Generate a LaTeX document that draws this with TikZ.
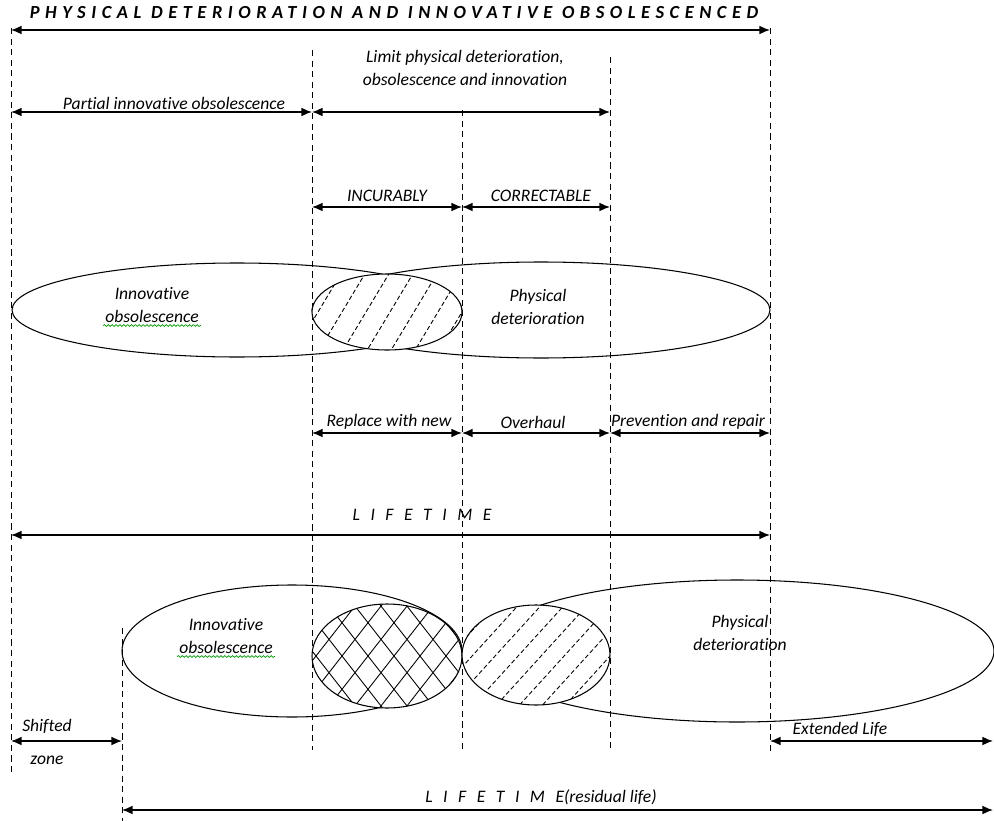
\documentclass[tikz,border=0pt]{standalone}
\usepackage{fontspec}
\setmainfont[Ligatures=NoCommon]{Carlito}
\usetikzlibrary{arrows.meta, positioning, decorations.pathmorphing}

\begin{document}
\begin{tikzpicture}[
    x=0.02cm, y=-0.02cm,
    guide/.style={dash pattern=on 3.5pt off 2.5pt, line width=0.5pt},
    span/.style={{Latex[length=6pt,width=5pt]}-{Latex[length=6pt,width=5pt]}, line width=0.8pt},
    tag/.style={font=\fontsize{10}{13.5}\selectfont\itshape, inner sep=1pt, align=center},
    word/.style={font=\fontsize{10}{13.5}\selectfont\itshape, inner sep=1pt, anchor=base},
    wide/.style={font=\fontsize{10}{13.5}\selectfont\itshape\addfontfeature{LetterSpace=60}, inner sep=1pt},
    spell/.style={green!60!black, line width=0.4pt, decorate, decoration={snake, amplitude=0.5pt, segment length=2.2pt}},
    lens/.style={line width=0.6pt},
    hatch/.style={dash pattern=on 2.5pt off 1.5pt, line width=0.5pt},
    cross/.style={line width=0.5pt}
]
\useasboundingbox (0,0) rectangle (994,821);

% Columns and rows
\coordinate (c0) at (11,0);
\coordinate (c1) at (122,0);
\coordinate (c2) at (312,0);
\coordinate (c3) at (462,0);
\coordinate (c4) at (610,0);
\coordinate (c5) at (770,0);
\coordinate (c6) at (993,0);

\coordinate (rTop) at (0,30);
\coordinate (rPart) at (0,112);
\coordinate (rCure) at (0,207);
\coordinate (rAct) at (0,433);
\coordinate (rLife) at (0,535);
\coordinate (rShift) at (0,741);
\coordinate (rRes) at (0,810);

% Guide lines
\foreach \n/\x/\ya/\yb in {0/11/28/775, 1/122/628/821, 2/312/50/750, 3/462/110/750, 4/610/57/750, 5/770/28/752} {
    \coordinate (g\n a) at (\x,\ya);
    \coordinate (g\n b) at (\x,\yb);
    \draw[guide] (g\n a) -- (g\n b);
}

% Upper ellipses
\draw[lens] (237,310) ellipse [x radius=225, y radius=47];
\draw[lens] (541,310) ellipse [x radius=229, y radius=48];
\fill[white] (387,312) ellipse [x radius=75, y radius=38];
\begin{scope}
    \clip (387,312) ellipse [x radius=75, y radius=38];
    \foreach \k in {-2,...,7}
        \draw[hatch] (306+24*\k,372) -- ++(60,-100);
\end{scope}
\draw[lens] (387,312) ellipse [x radius=75, y radius=38];

% Lower ellipses
\draw[lens] (292,651) ellipse [x radius=170, y radius=66];
\draw[lens] (737,651) ellipse [x radius=257, y radius=71];
\fill[white] (387,656) ellipse [x radius=75, y radius=52];
\begin{scope}
    \clip (387,656) ellipse [x radius=75, y radius=52];
    \foreach \k in {0,...,8} {
        \draw[cross] (240+26*\k,720) -- ++(100,-128);
        \draw[cross] (240+26*\k,592) -- ++(100,128);
    }
\end{scope}
\draw[lens] (387,656) ellipse [x radius=75, y radius=52];
\fill[white] (536,655) ellipse [x radius=74, y radius=50];
\begin{scope}
    \clip (536,655) ellipse [x radius=74, y radius=50];
    \foreach \k in {0,...,8}
        \draw[hatch] (400+23*\k,710) -- ++(100,-110);
\end{scope}
\draw[lens] (536,655) ellipse [x radius=74, y radius=50];

% Nodes
\node[font=\fontsize{10.5}{12}\selectfont\bfseries\itshape\addfontfeature{LetterSpace=30}] (Title) at (394,13) {PHYSICAL DETERIORATION AND INNOVATIVE OBSOLESCENCED};
\node[tag] (LimitLbl) at (465,68) {Limit physical deterioration,\\obsolescence and innovation};
\node[tag] (PartialLbl) at (174,103) {Partial innovative obsolescence};
\node[tag] (IncLbl) at (387,196) {INCURABLY};
\node[tag] (CorLbl) at (541,196) {CORRECTABLE};

\node[word] (InnoUpA) at (152,299) {Innovative};
\node[word] (InnoUpB) at (152,322) {obsolescence};
\node[tag] (PhysUp) at (538,307) {Physical\\deterioration};

\node[tag] (ReplLbl) at (389,422) {Replace with new};
\node[tag] (OverLbl) at (533,422) {Overhaul};
\node[tag] (PrevLbl) at (688,422) {Prevention and repair};
\node[wide] (LifeLbl) at (422,515) {LIFETIME};

\node[word] (InnoLowA) at (226,630) {Innovative};
\node[word] (InnoLowB) at (226,653) {obsolescence};
\node[tag] (PhysLow) at (740,633) {Physical\\deterioration};

\node[tag] (ShiftLbl) at (47,726) {Shifted};
\node[tag, below=0.38cm of ShiftLbl] (ZoneLbl) {zone};
\node[tag] (ExtLbl) at (840,729) {Extended Life};
\node[tag] (ResLbl) at (541,797) {{\addfontfeature{LetterSpace=60}LIFETIME}(residual life)};

% Spelling marks
\draw[spell] ([yshift=-2pt]InnoUpB.base west) -- ([yshift=-2pt]InnoUpB.base east);
\draw[spell] ([yshift=-2pt]InnoLowB.base west) -- ([yshift=-2pt]InnoLowB.base east);

% Edges
\draw[span] (c0 |- rTop) -- (c5 |- rTop);
\draw[span] (c0 |- rPart) -- (c2 |- rPart);
\draw[span] (c2 |- rPart) -- (c4 |- rPart);
\draw[span] (c2 |- rCure) -- (c3 |- rCure);
\draw[span] (c3 |- rCure) -- (c4 |- rCure);
\draw[span] (c2 |- rAct) -- (c3 |- rAct);
\draw[span] (c3 |- rAct) -- (c4 |- rAct);
\draw[span] (c4 |- rAct) -- (c5 |- rAct);
\draw[span] (c0 |- rLife) -- (c5 |- rLife);
\draw[span] (c0 |- rShift) -- (c1 |- rShift);
\draw[span] (c5 |- rShift) -- (c6 |- rShift);
\draw[span] (c1 |- rRes) -- (c6 |- rRes);

\end{tikzpicture}
\end{document}
